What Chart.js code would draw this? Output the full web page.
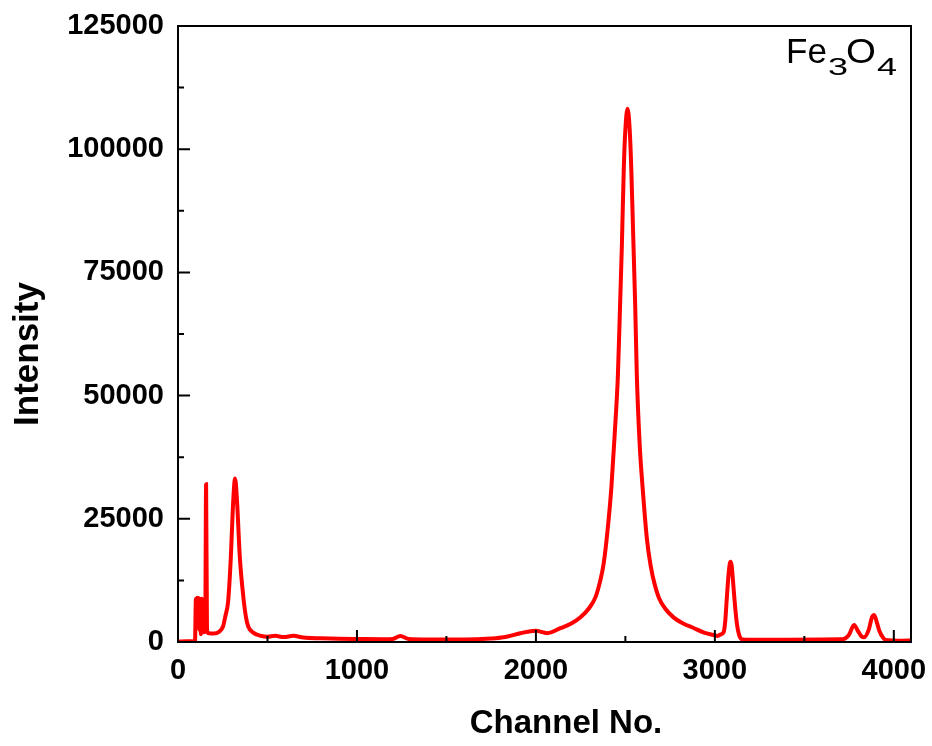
<!DOCTYPE html>
<html>
<head>
<meta charset="utf-8">
<script src="https://cdn.jsdelivr.net/npm/chart.js@4.4.1/dist/chart.umd.min.js"></script>
<style>
  html, body { margin: 0; padding: 0; background: #fff; }
  #wrap { width: 932px; height: 746px; }
</style>
</head>
<body>
<div id="wrap"><canvas id="spec"></canvas></div>
<script>
// spectrum: channel number and counts
const channels = [
  0, 50, 95, 100, 104, 108, 112, 116, 120, 124, 128, 132, 136, 140, 146, 152, 157, 162, 168,
  180, 200, 230, 252, 265, 280, 295, 307, 319, 330, 345, 365, 380, 393, 420, 459,
  500, 543, 590, 645, 700, 800, 900, 1000, 1150, 1200, 1242, 1290, 1400, 1600, 1750,
  1820, 1913, 1997, 2063, 2137, 2200, 2249, 2300, 2333, 2360, 2379, 2400, 2422, 2440,
  2458, 2470, 2480, 2491, 2500, 2512, 2524, 2533, 2544, 2555, 2564, 2580, 2597, 2620,
  2641, 2665, 2687, 2720, 2769, 2820, 2881, 2940, 2993, 3014, 3030, 3049, 3058, 3066,
  3076, 3083, 3088, 3094, 3100, 3110, 3122, 3135, 3154, 3200, 3400, 3600, 3700, 3720,
  3750, 3778, 3800, 3820, 3834, 3860, 3878, 3890, 3905, 3920, 3940, 3955, 4000, 4050, 4096
];
const counts = [
  100, 150, 120, 8800, 7600, 9000, 3000, 8900, 2500, 8700, 1600, 8800, 2200, 8200, 2000, 2100, 32000, 2600, 1800,
  1750, 1700, 2100, 3200, 5300, 8200, 17000, 27500, 33200, 28500, 17500, 9200, 5000, 3100, 1900, 1280,
  1050, 1250, 1000, 1250, 900, 750, 650, 600, 550, 620, 1200, 600, 500, 500, 700,
  950, 1760, 2300, 1800, 2800, 3800, 5000, 7000, 9100, 12500, 16000, 22500, 31500, 42000,
  54000, 68000, 80000, 96000, 104000, 108200, 104000, 96000, 82000, 68000, 54000, 40000, 31000, 21000,
  15500, 11500, 9000, 6900, 5000, 3800, 2840, 1900, 1420, 1220, 1500, 2000, 4200, 8500,
  13500, 15800, 16300, 15500, 13000, 8500, 4000, 1500, 500, 450, 450, 500, 550, 600,
  1500, 3450, 2200, 1100, 950, 2500, 5000, 5480, 4000, 2200, 900, 400, 300, 250, 300
];
const xTicks = [0, 1000, 2000, 3000, 4000];
const yTicks = [0, 25000, 50000, 75000, 100000, 125000];

const points = channels.map((c, i) => ({ x: c, y: counts[i] }));

const FAMILY = '"Liberation Sans", Arial, sans-serif';

// black box round the plot, inward ticks (major + minor halfway), axis titles, sample label
const frame = {
  id: 'frame',
  afterDraw(chart) {
    const { ctx, chartArea: a, scales } = chart;
    const xs = scales.x, ys = scales.y;
    ctx.save();
    ctx.strokeStyle = '#000';
    ctx.lineWidth = 2;
    ctx.strokeRect(a.left, a.top, a.right - a.left, a.bottom - a.top);
    ctx.beginPath();
    for (let v = 0; v <= 4000; v += 500) {
      const px = xs.getPixelForValue(v);
      const len = v % 1000 === 0 ? 12 : 6;
      ctx.moveTo(px, a.bottom);
      ctx.lineTo(px, a.bottom - len);
    }
    for (let v = 0; v <= 125000; v += 12500) {
      const py = ys.getPixelForValue(v);
      const len = v % 25000 === 0 ? 12 : 6;
      ctx.moveTo(a.left, py);
      ctx.lineTo(a.left + len, py);
    }
    ctx.stroke();

    ctx.fillStyle = '#000';
    ctx.textBaseline = 'alphabetic';

    // axis titles
    ctx.textAlign = 'center';
    ctx.font = 'bold 33px ' + FAMILY;
    ctx.fillText('Channel No.', 566, 733);
    ctx.save();
    ctx.translate(38, 354);
    ctx.rotate(-Math.PI / 2);
    ctx.font = 'bold 35px ' + FAMILY;
    ctx.fillText('Intensity', 0, 0);
    ctx.restore();

    // Fe3O4, subscripts dropped and a bit wider
    ctx.textAlign = 'left';
    const parts = [['Fe', 786, 63, 35, 1], ['3', 828, 75, 24, 1.5], ['O', 846, 63, 35, 1.1], ['4', 877, 75, 24, 1.5]];
    parts.forEach(([t, x, y, size, sx]) => {
      ctx.save();
      ctx.translate(x, y);
      ctx.scale(sx, 1);
      ctx.font = size + 'px ' + FAMILY;
      ctx.fillText(t, 0, 0);
      ctx.restore();
    });
    ctx.restore();
  }
};

const tickFont = { family: FAMILY, size: 29, weight: 'bold' };

// fixed box sizes, no extra room for overhanging labels
function fixX(s) { s.height = 104; s.paddingLeft = s.paddingRight = 0; }
function fixY(s) { s.width = 178; s.paddingTop = s.paddingBottom = 0; }

new Chart(document.getElementById('spec'), {
  type: 'line',
  data: {
    datasets: [{
      data: points,
      borderColor: '#ff0000',
      borderWidth: 4,
      pointRadius: 0,
      cubicInterpolationMode: 'monotone',
      fill: false
    }]
  },
  options: {
    responsive: true,
    maintainAspectRatio: false,
    animation: false,
    layout: { padding: { left: 0, top: 26, right: 21, bottom: 0 } },
    plugins: { legend: { display: false }, tooltip: { enabled: false } },
    scales: {
      x: {
        type: 'linear',
        min: 0,
        max: 4096,
        afterFit: fixX,
        afterBuildTicks: s => { s.ticks = xTicks.map(v => ({ value: v })); },
        grid: { display: false, drawTicks: false },
        border: { display: false },
        ticks: { color: '#000', font: tickFont, padding: 12, maxRotation: 0, callback: v => String(v) }
      },
      y: {
        min: 0,
        max: 125000,
        afterFit: fixY,
        afterBuildTicks: s => { s.ticks = yTicks.map(v => ({ value: v })); },
        grid: { display: false, drawTicks: false },
        border: { display: false },
        ticks: { color: '#000', font: tickFont, padding: 14, callback: v => String(v) }
      }
    }
  },
  plugins: [frame]
});
</script>
</body>
</html>
